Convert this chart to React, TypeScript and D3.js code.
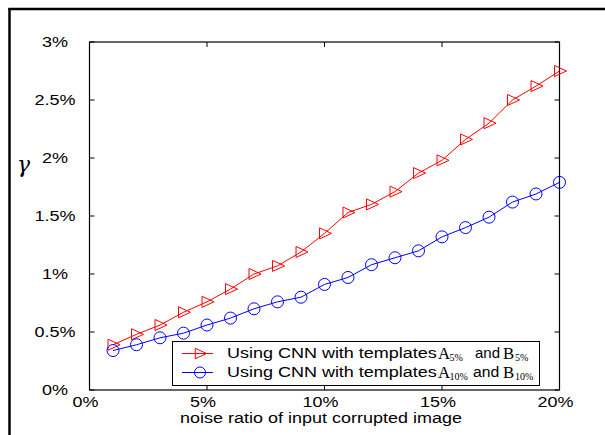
import React from "react";
import * as d3 from "d3";

const noise = [1, 2, 3, 4, 5, 6, 7, 8, 9, 10, 11, 12, 13, 14, 15, 16, 17, 18, 19, 20];
const gamma5 = [0.39, 0.48, 0.56, 0.67, 0.76, 0.87, 1.0, 1.07, 1.19, 1.35, 1.53, 1.6, 1.71, 1.87, 1.98, 2.16, 2.3, 2.5, 2.62, 2.75];
const gamma10 = [0.34, 0.39, 0.45, 0.49, 0.56, 0.62, 0.7, 0.76, 0.8, 0.91, 0.97, 1.08, 1.14, 1.2, 1.32, 1.4, 1.49, 1.62, 1.69, 1.79];
const xTicks = [0, 5, 10, 15, 20];
const yTicks = [0, 0.5, 1, 1.5, 2, 2.5, 3];
const xTickLabels = ["0%", "5%", "10%", "15%", "20%"];
const yTickLabels = ["0%", "0.5%", "1%", "1.5%", "2%", "2.5%", "3%"];
const legendText = "Using CNN with templates";
const legendSub5 = "5%";
const legendSub10 = "10%";

const W = 605, H = 435;
const L = 89.5, R = 559.5, T = 42, B = 390;
const SX = 1.2;
const sans = "Liberation Sans, Arial, sans-serif";
const serif = "Liberation Serif, Times New Roman, serif";

function Txt(props: { x: number; y: number; size: number; anchor?: string; family?: string; sx?: number; italic?: boolean; children: React.ReactNode }) {
  const { x, y, size, anchor, family, sx, italic, children } = props;
  return (
    <text
      transform={`translate(${x},${y}) scale(${sx ?? SX},1)`}
      fontFamily={family ?? sans}
      fontSize={size}
      fontStyle={italic ? "italic" : "normal"}
      textAnchor={anchor ?? "start"}
    >
      {children}
    </text>
  );
}

export default function App() {
  const x = d3.scaleLinear().domain([0, 20]).range([L, R]);
  const y = d3.scaleLinear().domain([0, 3]).range([B, T]);
  const line = d3.line<number>().x((_, i) => x(noise[i])).y((d) => y(d));
  const tri = (cx: number, cy: number, s = 1) =>
    `M${cx - 5 * s},${cy - 5.5 * s}L${cx + 7 * s},${cy}L${cx - 5 * s},${cy + 5.5 * s}Z`;
  const tl = 5;
  const lx0 = 182, lx1 = 213, lmx = 200;
  const ry = 353.5, by = 372.5;
  const rb = 358.3, bb = 377.3;
  return (
    <svg width={W} height={H} style={{ position: "absolute", left: 0, top: 0, background: "#fff" }}>
      <rect x={0} y={0} width={W} height={H} fill="#fff" />
      {/* outer frame */}
      <line x1={8.5} y1={9} x2={W} y2={9} stroke="#000" strokeWidth={2.5} />
      <line x1={9.5} y1={8} x2={9.5} y2={H} stroke="#000" strokeWidth={2.5} />
      {/* plot box */}
      <rect x={L} y={T} width={R - L} height={B - T} fill="none" stroke="#000" strokeWidth={1.2} />
      {xTicks.map((t, i) => (
        <g key={"xt" + i}>
          <line x1={x(t)} x2={x(t)} y1={B} y2={B - tl} stroke="#000" />
          <line x1={x(t)} x2={x(t)} y1={T} y2={T + tl} stroke="#000" />
          <Txt x={x(t) - 4} y={407} size={14.5} sx={1.24} anchor="middle">{xTickLabels[i]}</Txt>
        </g>
      ))}
      {yTicks.map((t, i) => (
        <g key={"yt" + i}>
          <line x1={L} x2={L + tl} y1={y(t)} y2={y(t)} stroke="#000" />
          <line x1={R} x2={R - tl} y1={y(t)} y2={y(t)} stroke="#000" />
          <Txt x={55} y={y(t) + 5} size={15} anchor="middle">{yTickLabels[i]}</Txt>
        </g>
      ))}
      <Txt x={17} y={172} size={23} family={"DejaVu Serif, serif"} sx={0.95} italic>γ</Txt>
      <Txt x={321} y={422.5} size={14.5} sx={1.24} anchor="middle">noise ratio of input corrupted image</Txt>
      {/* series */}
      <path d={line(gamma5) || ""} fill="none" stroke="#ff0000" strokeWidth={1} />
      {gamma5.map((v, i) => (
        <path key={"r" + i} d={tri(x(noise[i]), y(v))} fill="none" stroke="#ff0000" strokeWidth={1} />
      ))}
      <path d={line(gamma10) || ""} fill="none" stroke="#0000ff" strokeWidth={1} />
      {gamma10.map((v, i) => (
        <circle key={"b" + i} cx={x(noise[i])} cy={y(v)} r={6} fill="none" stroke="#0000ff" strokeWidth={1} />
      ))}
      {/* legend */}
      <rect x={172.5} y={341.5} width={367} height={44} fill="#fff" stroke="#000" strokeWidth={1} />
      <line x1={lx0} x2={lx1} y1={ry} y2={ry} stroke="#ff0000" />
      <path d={tri(lmx, ry, 0.95)} fill="none" stroke="#ff0000" />
      <line x1={lx0} x2={lx1} y1={by} y2={by} stroke="#0000ff" />
      <circle cx={lmx} cy={by} r={5.5} fill="none" stroke="#0000ff" />
      <Txt x={227} y={rb} size={15}>{legendText}</Txt>
      <Txt x={438} y={rb + 0.7} size={16} family={serif} sx={1.05}>A</Txt>
      <Txt x={449.5} y={rb + 2.5} size={9.5} family={serif} sx={1.05}>{legendSub5}</Txt>
      <Txt x={475} y={rb} size={15} sx={1.0}>and</Txt>
      <Txt x={503} y={rb + 0.7} size={16} family={serif} sx={1.05}>B</Txt>
      <Txt x={515} y={rb + 2.5} size={9.5} family={serif} sx={1.05}>{legendSub5}</Txt>
      <Txt x={227} y={bb} size={15}>{legendText}</Txt>
      <Txt x={438} y={bb + 0.7} size={16} family={serif} sx={1.05}>A</Txt>
      <Txt x={449.5} y={bb + 2.5} size={9.5} family={serif} sx={1.05}>{legendSub10}</Txt>
      <Txt x={473} y={bb} size={15} sx={1.05}>and</Txt>
      <Txt x={503} y={bb + 0.7} size={16} family={serif} sx={1.05}>B</Txt>
      <Txt x={515} y={bb + 2.5} size={9.5} family={serif} sx={1.05}>{legendSub10}</Txt>
    </svg>
  );
}
